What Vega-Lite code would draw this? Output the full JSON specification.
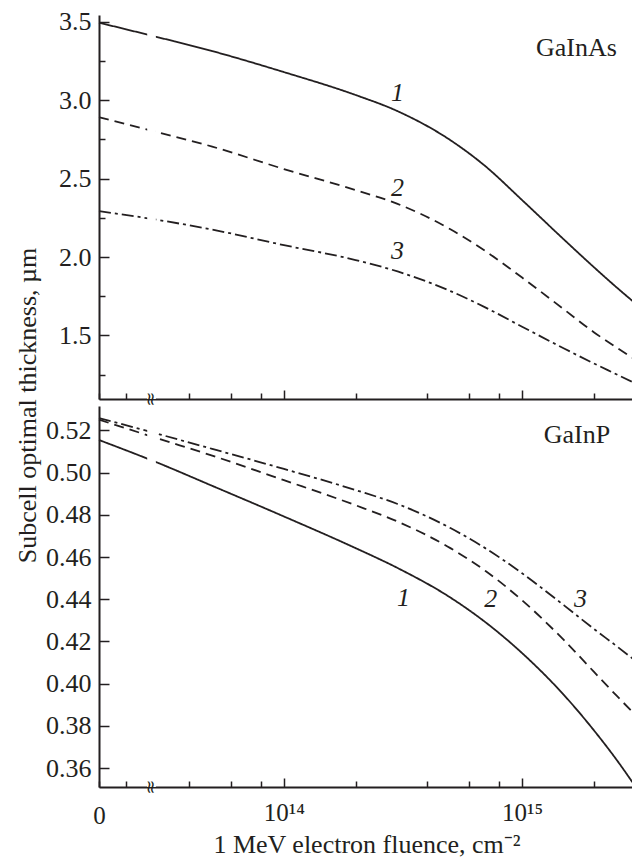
{
  "$schema": "https://vega.github.io/schema/vega-lite/v6.json",
  "padding": {"left": 14, "top": 8, "right": 0, "bottom": 0},
  "bounds": "flush",
  "spacing": 7,
  "config": {
    "view": {"stroke": null},
    "font": "Liberation Serif",
    "axis": {
      "domainColor": "#231f20", "domainWidth": 2,
      "tickColor": "#231f20", "tickWidth": 1.5,
      "labelColor": "#231f20", "labelFont": "Liberation Serif", "labelFontSize": 25,
      "titleFont": "Liberation Serif", "titleFontSize": 26, "titleFontWeight": "normal", "titleColor": "#231f20",
      "grid": false, "zindex": 1, "labelOverlap": false, "labelFlush": false, "labelBound": false
    },
    "axisY": {"labelFontSize": 26},
    "text": {"font": "Liberation Serif", "color": "#231f20"}
  },
  "datasets": {
    "curves": [
      {"panel": "GaInAs", "curve": "1", "fluence": 0, "thickness": 3.494},
      {"panel": "GaInAs", "curve": "1", "fluence": 3e13, "thickness": 3.399},
      {"panel": "GaInAs", "curve": "1", "fluence": 5e13, "thickness": 3.313},
      {"panel": "GaInAs", "curve": "1", "fluence": 1e14, "thickness": 3.179},
      {"panel": "GaInAs", "curve": "1", "fluence": 2e14, "thickness": 3.033},
      {"panel": "GaInAs", "curve": "1", "fluence": 3e14, "thickness": 2.930},
      {"panel": "GaInAs", "curve": "1", "fluence": 5e14, "thickness": 2.745},
      {"panel": "GaInAs", "curve": "1", "fluence": 7e14, "thickness": 2.580},
      {"panel": "GaInAs", "curve": "1", "fluence": 1e15, "thickness": 2.363},
      {"panel": "GaInAs", "curve": "1", "fluence": 1.5e15, "thickness": 2.111},
      {"panel": "GaInAs", "curve": "1", "fluence": 2e15, "thickness": 1.936},
      {"panel": "GaInAs", "curve": "1", "fluence": 2.5e15, "thickness": 1.805},
      {"panel": "GaInAs", "curve": "1", "fluence": 2.95e15, "thickness": 1.712},
      {"panel": "GaInAs", "curve": "2", "fluence": 0, "thickness": 2.892},
      {"panel": "GaInAs", "curve": "2", "fluence": 3e13, "thickness": 2.793},
      {"panel": "GaInAs", "curve": "2", "fluence": 5e13, "thickness": 2.704},
      {"panel": "GaInAs", "curve": "2", "fluence": 1e14, "thickness": 2.561},
      {"panel": "GaInAs", "curve": "2", "fluence": 2e14, "thickness": 2.427},
      {"panel": "GaInAs", "curve": "2", "fluence": 3e14, "thickness": 2.339},
      {"panel": "GaInAs", "curve": "2", "fluence": 5e14, "thickness": 2.177},
      {"panel": "GaInAs", "curve": "2", "fluence": 7e14, "thickness": 2.039},
      {"panel": "GaInAs", "curve": "2", "fluence": 1e15, "thickness": 1.869},
      {"panel": "GaInAs", "curve": "2", "fluence": 1.5e15, "thickness": 1.666},
      {"panel": "GaInAs", "curve": "2", "fluence": 2e15, "thickness": 1.521},
      {"panel": "GaInAs", "curve": "2", "fluence": 2.5e15, "thickness": 1.422},
      {"panel": "GaInAs", "curve": "2", "fluence": 2.95e15, "thickness": 1.352},
      {"panel": "GaInAs", "curve": "3", "fluence": 0, "thickness": 2.293},
      {"panel": "GaInAs", "curve": "3", "fluence": 3e13, "thickness": 2.235},
      {"panel": "GaInAs", "curve": "3", "fluence": 5e13, "thickness": 2.175},
      {"panel": "GaInAs", "curve": "3", "fluence": 1e14, "thickness": 2.076},
      {"panel": "GaInAs", "curve": "3", "fluence": 2e14, "thickness": 1.981},
      {"panel": "GaInAs", "curve": "3", "fluence": 3e14, "thickness": 1.908},
      {"panel": "GaInAs", "curve": "3", "fluence": 5e14, "thickness": 1.783},
      {"panel": "GaInAs", "curve": "3", "fluence": 7e14, "thickness": 1.679},
      {"panel": "GaInAs", "curve": "3", "fluence": 1e15, "thickness": 1.556},
      {"panel": "GaInAs", "curve": "3", "fluence": 1.5e15, "thickness": 1.417},
      {"panel": "GaInAs", "curve": "3", "fluence": 2e15, "thickness": 1.322},
      {"panel": "GaInAs", "curve": "3", "fluence": 2.5e15, "thickness": 1.251},
      {"panel": "GaInAs", "curve": "3", "fluence": 2.95e15, "thickness": 1.198},
      {"panel": "GaInP", "curve": "1", "fluence": 0, "thickness": 0.5154},
      {"panel": "GaInP", "curve": "1", "fluence": 3e13, "thickness": 0.5043},
      {"panel": "GaInP", "curve": "1", "fluence": 5e13, "thickness": 0.4937},
      {"panel": "GaInP", "curve": "1", "fluence": 1e14, "thickness": 0.4792},
      {"panel": "GaInP", "curve": "1", "fluence": 2e14, "thickness": 0.4642},
      {"panel": "GaInP", "curve": "1", "fluence": 3e14, "thickness": 0.4548},
      {"panel": "GaInP", "curve": "1", "fluence": 5e14, "thickness": 0.4408},
      {"panel": "GaInP", "curve": "1", "fluence": 7e14, "thickness": 0.4292},
      {"panel": "GaInP", "curve": "1", "fluence": 1e15, "thickness": 0.4145},
      {"panel": "GaInP", "curve": "1", "fluence": 1.5e15, "thickness": 0.3946},
      {"panel": "GaInP", "curve": "1", "fluence": 2e15, "thickness": 0.3780},
      {"panel": "GaInP", "curve": "1", "fluence": 2.5e15, "thickness": 0.3638},
      {"panel": "GaInP", "curve": "1", "fluence": 2.95e15, "thickness": 0.3523},
      {"panel": "GaInP", "curve": "2", "fluence": 0, "thickness": 0.5250},
      {"panel": "GaInP", "curve": "2", "fluence": 3e13, "thickness": 0.5159},
      {"panel": "GaInP", "curve": "2", "fluence": 5e13, "thickness": 0.5080},
      {"panel": "GaInP", "curve": "2", "fluence": 1e14, "thickness": 0.4964},
      {"panel": "GaInP", "curve": "2", "fluence": 2e14, "thickness": 0.4845},
      {"panel": "GaInP", "curve": "2", "fluence": 3e14, "thickness": 0.4768},
      {"panel": "GaInP", "curve": "2", "fluence": 5e14, "thickness": 0.4642},
      {"panel": "GaInP", "curve": "2", "fluence": 7e14, "thickness": 0.4535},
      {"panel": "GaInP", "curve": "2", "fluence": 1e15, "thickness": 0.4395},
      {"panel": "GaInP", "curve": "2", "fluence": 1.5e15, "thickness": 0.4206},
      {"panel": "GaInP", "curve": "2", "fluence": 2e15, "thickness": 0.4057},
      {"panel": "GaInP", "curve": "2", "fluence": 2.5e15, "thickness": 0.3942},
      {"panel": "GaInP", "curve": "2", "fluence": 2.95e15, "thickness": 0.3859},
      {"panel": "GaInP", "curve": "3", "fluence": 0, "thickness": 0.5258},
      {"panel": "GaInP", "curve": "3", "fluence": 3e13, "thickness": 0.5181},
      {"panel": "GaInP", "curve": "3", "fluence": 5e13, "thickness": 0.5112},
      {"panel": "GaInP", "curve": "3", "fluence": 1e14, "thickness": 0.5017},
      {"panel": "GaInP", "curve": "3", "fluence": 2e14, "thickness": 0.4917},
      {"panel": "GaInP", "curve": "3", "fluence": 3e14, "thickness": 0.4851},
      {"panel": "GaInP", "curve": "3", "fluence": 5e14, "thickness": 0.4737},
      {"panel": "GaInP", "curve": "3", "fluence": 7e14, "thickness": 0.4642},
      {"panel": "GaInP", "curve": "3", "fluence": 1e15, "thickness": 0.4523},
      {"panel": "GaInP", "curve": "3", "fluence": 1.5e15, "thickness": 0.4371},
      {"panel": "GaInP", "curve": "3", "fluence": 2e15, "thickness": 0.4260},
      {"panel": "GaInP", "curve": "3", "fluence": 2.5e15, "thickness": 0.4177},
      {"panel": "GaInP", "curve": "3", "fluence": 2.95e15, "thickness": 0.4114}
    ],
    "labels": [
      {"panel": "GaInAs", "text": "1", "style": "italic", "fluence": 3e14, "thickness": 3.047},
      {"panel": "GaInAs", "text": "2", "style": "italic", "fluence": 3e14, "thickness": 2.441},
      {"panel": "GaInAs", "text": "3", "style": "italic", "fluence": 3e14, "thickness": 2.039},
      {"panel": "GaInAs", "text": "GaInAs", "style": "normal", "fluence": 1.69e15, "thickness": 3.334},
      {"panel": "GaInP", "text": "1", "style": "italic", "fluence": 3.18e14, "thickness": 0.4406},
      {"panel": "GaInP", "text": "2", "style": "italic", "fluence": 7.38e14, "thickness": 0.440},
      {"panel": "GaInP", "text": "3", "style": "italic", "fluence": 1.76e15, "thickness": 0.440},
      {"panel": "GaInP", "text": "GaInP", "style": "normal", "fluence": 1.7e15, "thickness": 0.518}
    ],
    "gap": [
      {"from": 5e12, "to": 2.9e13, "mark": "\u2248", "at": 2.74e13}
    ]
  },
  "vconcat": [
    {
      "width": 535,
      "height": 384,
      "layer": [
        {
          "data": {"name": "curves"},
          "transform": [{"filter": "datum.panel === 'GaInAs'"}],
          "mark": {"type": "line", "color": "#231f20", "strokeWidth": 1.8, "interpolate": "monotone"},
          "encoding": {
            "x": {"field": "fluence", "type": "quantitative",
                  "scale": {"type": "symlog", "domain": [0, 2.74e13, 2.95e15], "range": [0, 51, 535], "nice": false, "zero": false},
                  "axis": {"title": null, "labels": false,
                           "values": [0, 1e7, 4e13, 6e13, 8e13, 1e14, 2e14, 4e14, 6e14, 8e14, 1e15, 2e15],
                           "tickSize": {"condition": {"test": "datum.value == 1e14 || datum.value == 1e15", "value": -9}, "value": -6}}},
            "y": {"field": "thickness", "type": "quantitative",
                  "scale": {"domain": [1.095, 3.543], "nice": false, "zero": false},
                  "axis": {"title": "Subcell optimal thickness, \u00b5m",
                           "titleX": -64, "titleY": 390, "titleAngle": 270, "titleAlign": "center", "titleBaseline": "alphabetic",
                           "values": [1.25, 1.5, 1.75, 2.0, 2.25, 2.5, 2.75, 3.0, 3.25, 3.5],
                           "labelExpr": "abs(round(datum.value*2) - datum.value*2) < 0.01 ? format(datum.value, '.1f') : ''",
                           "labelPadding": 18,
                           "tickSize": {"condition": {"test": "abs(round(datum.value*2) - datum.value*2) < 0.01", "value": -10}, "value": -6}}},
            "strokeDash": {"field": "curve", "type": "nominal",
                           "scale": {"domain": ["1", "2", "3"], "range": [[1, 0], [10, 6], [12, 4, 3, 4]]},
                           "legend": null}
          }
        },
        {
          "data": {"name": "gap"},
          "mark": {"type": "rect", "color": "white"},
          "encoding": {
            "x": {"field": "from", "type": "quantitative"},
            "x2": {"field": "to"}
          }
        },
        {
          "data": {"name": "gap"},
          "mark": {"type": "text", "angle": 90, "fontSize": 18, "font": "DejaVu Sans", "align": "center", "baseline": "middle"},
          "encoding": {
            "x": {"field": "at", "type": "quantitative"},
            "y": {"value": "height"},
            "text": {"field": "mark"}
          }
        },
        {
          "data": {"name": "labels"},
          "transform": [{"filter": "datum.panel === 'GaInAs' && datum.style === 'italic'"}],
          "mark": {"type": "text", "fontSize": 26, "fontStyle": "italic", "align": "center", "baseline": "middle"},
          "encoding": {
            "x": {"field": "fluence", "type": "quantitative"},
            "y": {"field": "thickness", "type": "quantitative"},
            "text": {"field": "text"}
          }
        },
        {
          "data": {"name": "labels"},
          "transform": [{"filter": "datum.panel === 'GaInAs' && datum.style === 'normal'"}],
          "mark": {"type": "text", "fontSize": 26, "align": "center", "baseline": "middle"},
          "encoding": {
            "x": {"field": "fluence", "type": "quantitative"},
            "y": {"field": "thickness", "type": "quantitative"},
            "text": {"field": "text"}
          }
        }
      ]
    },
    {
      "width": 535,
      "height": 381,
      "layer": [
        {
          "data": {"name": "curves"},
          "transform": [{"filter": "datum.panel === 'GaInP'"}],
          "mark": {"type": "line", "color": "#231f20", "strokeWidth": 1.8, "interpolate": "monotone"},
          "encoding": {
            "x": {"field": "fluence", "type": "quantitative",
                  "scale": {"type": "symlog", "domain": [0, 2.74e13, 2.95e15], "range": [0, 51, 535], "nice": false, "zero": false},
                  "axis": {"title": "1 MeV electron fluence, cm\u207b\u00b2", "titlePadding": 3,
                           "values": [0, 1e7, 4e13, 6e13, 8e13, 1e14, 2e14, 4e14, 6e14, 8e14, 1e15, 2e15],
                           "labelExpr": "datum.value == 1e14 ? '10\u00b9\u2074' : datum.value == 1e15 ? '10\u00b9\u2075' : datum.value == 0 ? '0' : ''",
                           "labelPadding": 22,
                           "tickSize": {"condition": {"test": "datum.value == 1e14 || datum.value == 1e15", "value": -9}, "value": -6}}},
            "y": {"field": "thickness", "type": "quantitative",
                  "scale": {"domain": [0.3511, 0.5315], "nice": false, "zero": false},
                  "axis": {"title": null,
                           "values": [0.36, 0.37, 0.38, 0.39, 0.40, 0.41, 0.42, 0.43, 0.44, 0.45, 0.46, 0.47, 0.48, 0.49, 0.50, 0.51, 0.52],
                           "labelExpr": "abs(round(datum.value*50) - datum.value*50) < 0.01 ? format(datum.value, '.2f') : ''",
                           "labelPadding": 18,
                           "tickSize": {"condition": {"test": "abs(round(datum.value*50) - datum.value*50) < 0.01", "value": -10}, "value": -6}}},
            "strokeDash": {"field": "curve", "type": "nominal",
                           "scale": {"domain": ["1", "2", "3"], "range": [[1, 0], [10, 6], [12, 4, 3, 4]]},
                           "legend": null}
          }
        },
        {
          "data": {"name": "gap"},
          "mark": {"type": "rect", "color": "white"},
          "encoding": {
            "x": {"field": "from", "type": "quantitative"},
            "x2": {"field": "to"}
          }
        },
        {
          "data": {"name": "gap"},
          "mark": {"type": "text", "angle": 90, "fontSize": 18, "font": "DejaVu Sans", "align": "center", "baseline": "middle"},
          "encoding": {
            "x": {"field": "at", "type": "quantitative"},
            "y": {"value": "height"},
            "text": {"field": "mark"}
          }
        },
        {
          "data": {"name": "labels"},
          "transform": [{"filter": "datum.panel === 'GaInP' && datum.style === 'italic'"}],
          "mark": {"type": "text", "fontSize": 26, "fontStyle": "italic", "align": "center", "baseline": "middle"},
          "encoding": {
            "x": {"field": "fluence", "type": "quantitative"},
            "y": {"field": "thickness", "type": "quantitative"},
            "text": {"field": "text"}
          }
        },
        {
          "data": {"name": "labels"},
          "transform": [{"filter": "datum.panel === 'GaInP' && datum.style === 'normal'"}],
          "mark": {"type": "text", "fontSize": 26, "align": "center", "baseline": "middle"},
          "encoding": {
            "x": {"field": "fluence", "type": "quantitative"},
            "y": {"field": "thickness", "type": "quantitative"},
            "text": {"field": "text"}
          }
        }
      ]
    }
  ]
}
